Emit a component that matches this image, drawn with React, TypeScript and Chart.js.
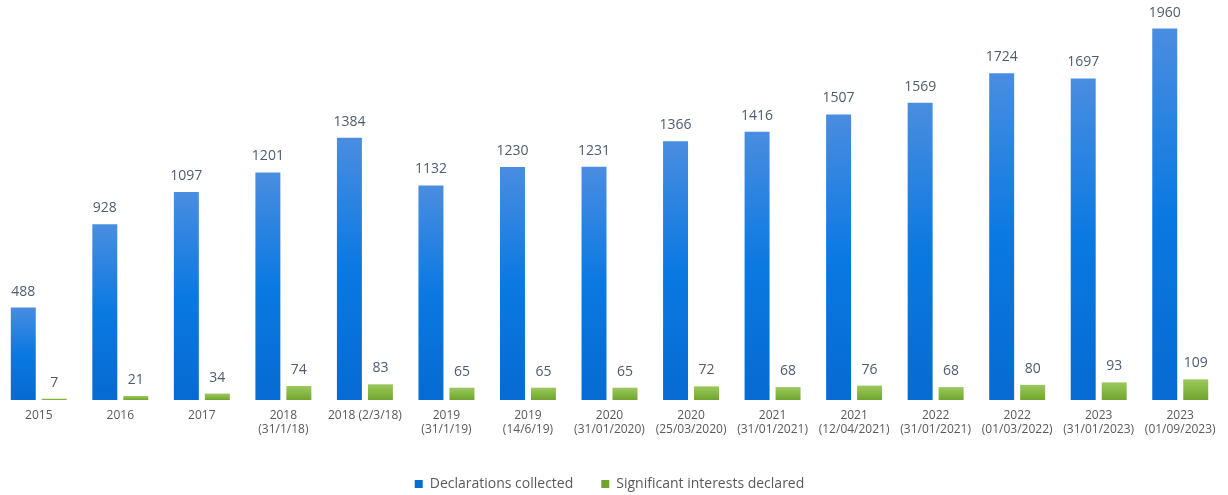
import React, { useEffect, useRef } from "react";
import { Chart, registerables } from "chart.js";

Chart.register(...registerables);

const categories: (string | string[])[] = [
  "2015",
  "2016",
  "2017",
  ["2018", "(31/1/18)"],
  "2018 (2/3/18)",
  ["2019", "(31/1/19)"],
  ["2019", "(14/6/19)"],
  ["2020", "(31/01/2020)"],
  ["2020", "(25/03/2020)"],
  ["2021", "(31/01/2021)"],
  ["2021", "(12/04/2021)"],
  ["2022", "(31/01/2021)"],
  ["2022", "(01/03/2022)"],
  ["2023", "(31/01/2023)"],
  ["2023", "(01/09/2023)"],
];

const declarationsCollected = [488, 928, 1097, 1201, 1384, 1132, 1230, 1231, 1366, 1416, 1507, 1569, 1724, 1697, 1960];
const significantInterests = [7, 21, 34, 74, 83, 65, 65, 65, 72, 68, 76, 68, 80, 93, 109];

const FONT = "'Open Sans', 'Noto Sans', sans-serif";

function gradientFor(top: string, mid: string, bottom: string) {
  return (context: any) => {
    const chart = context.chart;
    const { ctx, chartArea, scales } = chart;
    if (!chartArea || context.type !== "data") return mid;
    const v = context.raw as number;
    const yTop = scales.y.getPixelForValue(v);
    const yBot = scales.y.getPixelForValue(0);
    if (!isFinite(yTop) || Math.abs(yBot - yTop) < 1) return mid;
    const g = ctx.createLinearGradient(0, yTop, 0, yBot);
    g.addColorStop(0, top);
    g.addColorStop(0.5, mid);
    g.addColorStop(1, bottom);
    return g;
  };
}

const valueLabels = {
  id: "valueLabels",
  afterDatasetsDraw(chart: any) {
    const { ctx } = chart;
    ctx.save();
    ctx.font = `14px ${FONT}`;
    ctx.fillStyle = "#4f5b6e";
    ctx.textAlign = "center";
    ctx.textBaseline = "middle";
    chart.data.datasets.forEach((ds: any, i: number) => {
      const meta = chart.getDatasetMeta(i);
      meta.data.forEach((bar: any, j: number) => {
        ctx.fillText(String(ds.data[j]), bar.x, bar.y - 16);
      });
    });
    ctx.restore();
  },
};

export default function App() {
  const ref = useRef<HTMLCanvasElement>(null);
  useEffect(() => {
    if (!ref.current) return;
    const chart = new Chart(ref.current, {
      type: "bar",
      data: {
        labels: categories,
        datasets: [
          {
            label: "Declarations collected",
            data: declarationsCollected,
            backgroundColor: gradientFor("#4a8de0", "#0a79e2", "#066bd2"),
            barPercentage: 0.806,
            categoryPercentage: 0.76,
          },
          {
            label: "Significant interests declared",
            data: significantInterests,
            backgroundColor: gradientFor("#9cc85e", "#86b843", "#70a330"),
            barPercentage: 0.806,
            categoryPercentage: 0.76,
          },
        ],
      },
      options: {
        animation: false,
        responsive: false,
        maintainAspectRatio: false,
        layout: { padding: { left: 0, right: 7, top: 21, bottom: 4 } },
        scales: {
          x: {
            grid: { display: false, drawTicks: false },
            border: { display: false },
            ticks: {
              color: "#595959",
              font: { family: FONT, size: 12 },
              padding: 8,
              maxRotation: 0,
              autoSkip: false,
            },
            title: {
              display: true,
              text: " ",
              font: { size: 1 },
              padding: { top: 1, bottom: 2 },
            },
          },
          y: {
            display: false,
            min: 0,
            max: 2000,
          },
        },
        plugins: {
          legend: {
            position: "bottom",
            labels: {
              boxWidth: 8,
              boxHeight: 8,
              color: "#595959",
              font: { family: FONT, size: 14 },
              padding: 28,
            },
          },
          tooltip: { enabled: false },
        },
      },
      plugins: [valueLabels],
    });
    return () => chart.destroy();
  }, []);
  return (
    <div style={{ position: "absolute", left: 0, top: 0, width: 1228, height: 495, overflow: "hidden", background: "#fff" }}>
      <canvas ref={ref} width={1230} height={505} style={{ display: "block", marginLeft: -2 }} />
    </div>
  );
}
